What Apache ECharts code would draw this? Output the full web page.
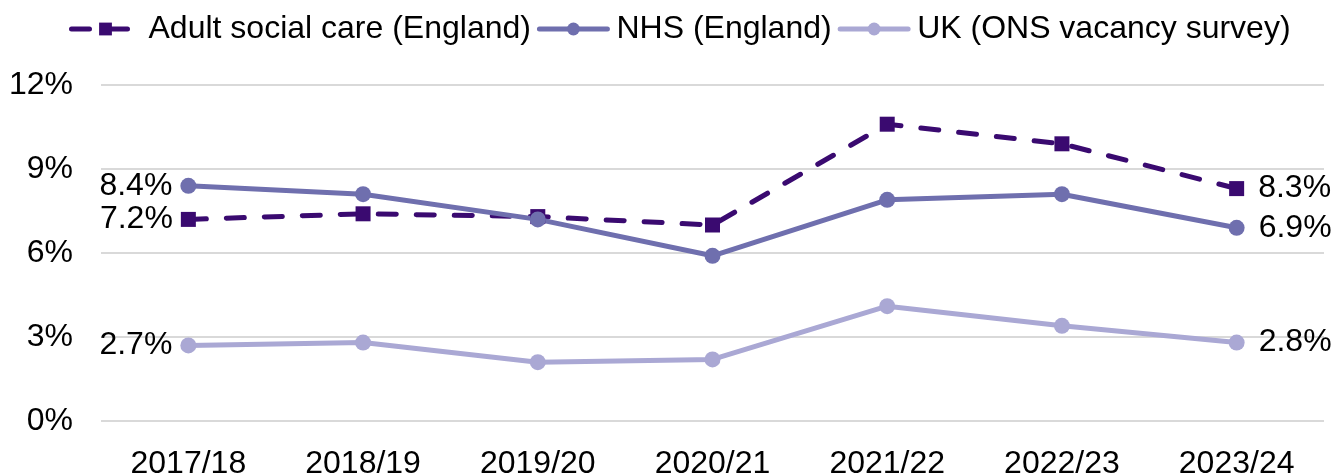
<!DOCTYPE html>
<html>
<head>
<meta charset="utf-8">
<script src="https://cdn.jsdelivr.net/npm/echarts@6/dist/echarts.min.js"></script>
<style>
  html, body { margin: 0; padding: 0; background: #fff; }
  #chart { width: 1335px; height: 473px; }
</style>
</head>
<body>
<div id="chart"></div>
<script>
// categories and values (percent)
var years = ['2017/18', '2018/19', '2019/20', '2020/21', '2021/22', '2022/23', '2023/24'];
var adultSocialCare = [7.2, 7.4, 7.3, 7.0, 10.6, 9.9, 8.3];
var nhs = [8.4, 8.1, 7.2, 5.9, 7.9, 8.1, 6.9];
var ukOns = [2.7, 2.8, 2.1, 2.2, 4.1, 3.4, 2.8];
var yTicks = [0, 3, 6, 9, 12];

var FONT = '"Liberation Sans", Arial, sans-serif';
var FS = 32;
var DASH = [18, 20];

// only first and last points get a label
function endLabel(p) {
  if (p.dataIndex === 0 || p.dataIndex === years.length - 1) return p.value.toFixed(1) + '%';
  return '';
}

function makeSeries(name, data, color, symbol, size, dashed) {
  return {
    name: name,
    type: 'line',
    data: data.map(function (v, i) {
      return { value: v, label: { position: i === 0 ? 'left' : 'right', distance: i === 0 ? 8 : 14 } };
    }),
    symbol: symbol,
    symbolSize: size,
    lineStyle: { color: color, width: 5, type: dashed ? DASH : 'solid', cap: 'round' },
    itemStyle: { color: color },
    label: {
      show: true,
      formatter: endLabel,
      color: '#000',
      fontFamily: FONT,
      fontSize: FS
    },
    emphasis: { disabled: true },
    animation: false
  };
}

var chart = echarts.init(document.getElementById('chart'));
chart.setOption({
  backgroundColor: '#fff',
  legend: {
    top: 8,
    left: 64,
    itemWidth: 68,
    itemHeight: 16,
    itemGap: 6,
    lineStyle: { width: 5 },
    textStyle: { fontFamily: FONT, fontSize: FS, color: '#000', padding: [0, 0, 0, 4] },
    data: ['Adult social care (England)', 'NHS (England)', 'UK (ONS vacancy survey)']
  },
  grid: { left: 101, right: 11, top: 85, bottom: 52, outerBoundsMode: 'none' },
  xAxis: {
    type: 'category',
    data: years,
    boundaryGap: true,
    axisLine: { show: false },
    axisTick: { show: false },
    axisLabel: { color: '#000', fontFamily: FONT, fontSize: FS, margin: 27 }
  },
  yAxis: {
    type: 'value',
    min: yTicks[0],
    max: yTicks[yTicks.length - 1],
    interval: 3,
    axisLabel: {
      color: '#000', fontFamily: FONT, fontSize: FS, margin: 28,
      formatter: function (v) { return v + '%'; }
    },
    splitLine: { lineStyle: { color: '#d9d9d9', width: 2 } }
  },
  series: [
    makeSeries('Adult social care (England)', adultSocialCare, '#3a0a70', 'rect', 15, true),
    makeSeries('NHS (England)', nhs, '#6f6fae', 'circle', 16, false),
    makeSeries('UK (ONS vacancy survey)', ukOns, '#aaa8d4', 'circle', 16, false)
  ]
});
</script>
</body>
</html>
